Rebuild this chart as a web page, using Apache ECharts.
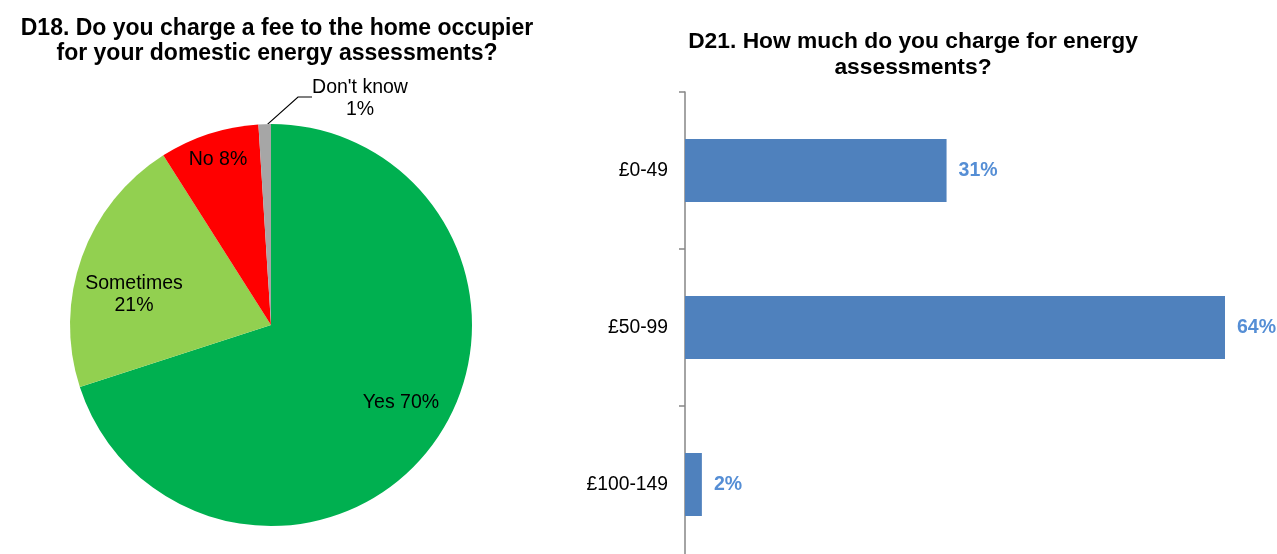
<!DOCTYPE html>
<html>
<head>
<meta charset="utf-8">
<script src="https://cdn.jsdelivr.net/npm/echarts@6/dist/echarts.min.js"></script>
<style>
html,body{margin:0;padding:0;background:#fff;}
#chart{width:1277px;height:554px;}
</style>
</head>
<body>
<div id="chart"></div>
<script>
var pieTitle = 'D18. Do you charge a fee to the home occupier\nfor your domestic energy assessments?';
var pieNames = ['Yes', 'Sometimes', 'No', "Don't know"];
var pieValues = [70, 21, 8, 1];
var pieColors = ['#00B050', '#92D050', '#FF0000', '#A6A6A6'];

var barTitle = 'D21. How much do you charge for energy\nassessments?';
var barCategories = ['£0-49', '£50-99', '£100-149'];
var barValues = [31, 64, 2];

var FONT = '"Liberation Sans", Arial, sans-serif';

// label anchor points for pie (positions only)
var pieLabelPos = [
  {x: 401, y: 403, align: 'center', verticalAlign: 'middle'},
  {x: 134, y: 295, align: 'center', verticalAlign: 'middle'},
  {x: 218, y: 160, align: 'center', verticalAlign: 'middle'},
  {x: 360, y: 98.5, align: 'center', verticalAlign: 'middle'}
];

var chart = echarts.init(document.getElementById('chart'), null, {renderer: 'canvas'});
chart.setOption({
  animation: false,
  backgroundColor: '#ffffff',
  title: [
    {text: pieTitle, left: 272, top: 11, textAlign: 'center',
     textStyle: {fontFamily: FONT, fontSize: 23, fontWeight: 'bold', color: '#000', lineHeight: 25}},
    {text: barTitle, left: 908, top: 24, textAlign: 'center',
     textStyle: {fontFamily: FONT, fontSize: 22.8, fontWeight: 'bold', color: '#000', lineHeight: 26}}
  ],
  grid: {left: 685, right: 52, top: 92, bottom: -9, outerBoundsMode: 'none', containLabel: false},
  xAxis: {type: 'value', min: 0, max: 64, show: false},
  yAxis: {
    type: 'category', inverse: true, data: barCategories,
    axisLine: {show: true, lineStyle: {color: '#868686', width: 1.5}},
    axisTick: {show: true, length: 6, lineStyle: {color: '#868686', width: 1.5}},
    axisLabel: {fontFamily: FONT, fontSize: 19.3, color: '#000', margin: 17},
    splitLine: {show: false}
  },
  series: [
    {
      type: 'pie',
      center: [271, 325],
      radius: [0, 201],
      startAngle: 90,
      clockwise: true,
      avoidLabelOverlap: false,
      data: pieNames.map(function (n, i) {
        return {name: n, value: pieValues[i], itemStyle: {color: pieColors[i]}};
      }),
      itemStyle: {borderWidth: 0},
      label: {
        show: true,
        position: 'inside',
        fontFamily: FONT, fontSize: 19.5, color: '#000', lineHeight: 22,
        formatter: function (p) {
          if (p.dataIndex === 0 || p.dataIndex === 2) return p.name + ' ' + p.value + '%';
          return p.name + '\n' + p.value + '%';
        }
      },
      labelLine: {show: false},
      labelLayout: function (p) {
        return pieLabelPos[p.dataIndex];
      },
      emphasis: {disabled: true}
    },
    {
      type: 'bar',
      data: barValues,
      barWidth: '40%',
      itemStyle: {color: '#4F81BD'},
      label: {
        show: true, position: 'right', distance: 12,
        fontFamily: FONT, fontSize: 19.5, fontWeight: 'bold', color: '#558ED5',
        formatter: '{c}%'
      },
      emphasis: {disabled: true}
    }
  ],
  graphic: []
});

// leader line for the small "Don't know" slice, anchored on the slice computed by the pie layout
(function () {
  var model = chart.getModel().getSeriesByIndex(0);
  var layout = model.getData().getItemLayout(3);
  var mid = (layout.startAngle + layout.endAngle) / 2;
  var sx = layout.cx + layout.r * Math.cos(mid);
  var sy = layout.cy + layout.r * Math.sin(mid);
  chart.setOption({
    graphic: [{
      type: 'polyline',
      shape: {points: [[sx + 3, sy], [298, 97], [312, 97]]},
      style: {stroke: '#000', lineWidth: 1.2, fill: null}
    }]
  });
})();
</script>
</body>
</html>
